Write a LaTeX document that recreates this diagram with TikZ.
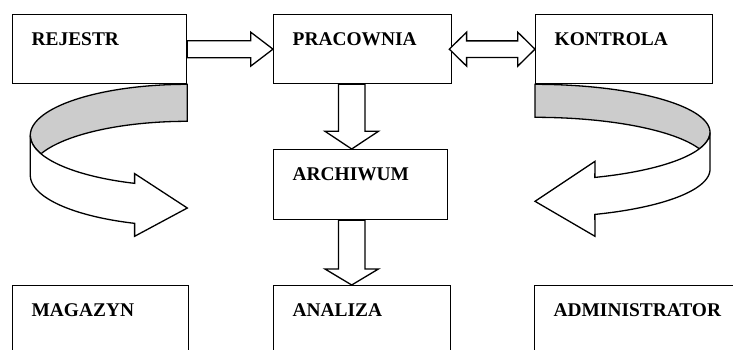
\documentclass[tikz,border=0pt]{standalone}
\usepackage{fontspec}
\setmainfont{Liberation Serif}
\usetikzlibrary{calc}

\tikzset{
  box/.style={draw, line width=1.3pt, anchor=north west, inner xsep=19pt,
    inner ysep=0pt, text height=31.3pt, text depth=37.7pt, align=left,
    font=\fontsize{19.4}{20}\selectfont\bfseries},
  blk/.style={draw, fill=white, line width=1.3pt, line join=miter},
  ribback/.style={draw, fill=black!20, line width=1.3pt},
  ribfront/.style={draw, fill=white, line width=1.3pt},
}

% horizontal block arrow: #1 tail, #2 tip, #3 head length
\newcommand\blockright[3]{%
  \draw[blk] ($(#1)+(0,-8.5)$) -- ($(#2)+(-#3,-8.5)$) -- ($(#2)+(-#3,-17)$)
    -- (#2) -- ($(#2)+(-#3,17)$) -- ($(#2)+(-#3,8.5)$) -- ($(#1)+(0,8.5)$) -- cycle;}
% downward block arrow: #1 tail, #2 tip, #3 head length
\newcommand\blockdown[3]{%
  \draw[blk] ($(#1)+(-13.2,0)$) -- ($(#2)+(-13.2,-#3)$) -- ($(#2)+(-26.7,-#3)$)
    -- (#2) -- ($(#2)+(26.7,-#3)$) -- ($(#2)+(13.2,-#3)$) -- ($(#1)+(13.2,0)$) -- cycle;}

\begin{document}
\begin{tikzpicture}[x=1pt, y=-1pt]
  \path[use as bounding box, clip] (0,0) rectangle (733,349);

  % boxes
  \node[box, text width=136pt] (rej) at (12,14) {REJESTR};
  \node[box, text width=140pt] (prac) at (273,14) {PRACOWNIA};
  \node[box, text width=139pt] (kon) at (535,14) {KONTROLA};
  \node[box, text width=136pt, text depth=38.7pt] (arch) at (273,149) {ARCHIWUM};
  \node[box, text width=138pt, text depth=60pt] (mag) at (12,285) {MAGAZYN};
  \node[box, text width=139pt, text depth=60pt] (ana) at (273,285) {ANALIZA};
  \node[box, text width=180pt, text depth=60pt] (adm) at (534,285) {ADMINISTRATOR};

  % REJESTR -> PRACOWNIA
  \blockright{rej.east}{prac.west}{22.3}

  % PRACOWNIA <-> KONTROLA
  \coordinate (d1) at ($(prac.east)+(-3,0)$);
  \draw[blk] (d1) -- ($(d1)+(17.3,-17)$) -- ($(d1)+(17.3,-8.3)$)
    -- ($(kon.west)+(-17.3,-8.3)$) -- ($(kon.west)+(-17.3,-17)$) -- (kon.west)
    -- ($(kon.west)+(-17.3,17)$) -- ($(kon.west)+(-17.3,8.3)$)
    -- ($(d1)+(17.3,8.3)$) -- ($(d1)+(17.3,17)$) -- cycle;

  % PRACOWNIA -> ARCHIWUM -> ANALIZA
  \coordinate (v1a) at ($(prac.south west)+(78.7,0)$);
  \coordinate (v1b) at (v1a |- arch.north);
  \coordinate (v2a) at (v1a |- arch.south);
  \coordinate (v2b) at (v1a |- ana.north);
  \blockdown{v1a}{v1b}{17.7}
  \blockdown{v2a}{v2b}{16}

  % curved ribbon arrow under REJESTR
  \begin{scope}[shift={(rej.south east)}]
    \draw[ribback] plot[domain=270:158.7, samples=50, variable=\t]
        ({157*cos(\t)},{51+51*sin(\t)})
      -- plot[domain=201.3:270, samples=50, variable=\t]
        ({157*cos(\t)},{88+51*sin(\t)}) -- cycle;
    \draw[ribfront, line join=miter] plot[domain=109.6:180, samples=50, variable=\t]
        ({157*cos(\t)},{51+51*sin(\t)})
      -- plot[domain=180:109.6, samples=50, variable=\t]
        ({157*cos(\t)},{91+51*sin(\t)})
      -- (-52.7,152) -- (0,123.7) -- (-52.7,89.3) -- cycle;
  \end{scope}

  % curved ribbon arrow under KONTROLA
  \begin{scope}[shift={(kon.south west)}]
    \draw[ribback] plot[domain=-90:20.1, samples=50, variable=\t]
        ({175*cos(\t)},{48+48*sin(\t)})
      -- plot[domain=-20.1:-90, samples=50, variable=\t]
        ({175*cos(\t)},{81+48*sin(\t)}) -- cycle;
    \draw[ribfront, line join=miter] plot[domain=70:0, samples=50, variable=\t]
        ({175*cos(\t)},{48+48*sin(\t)})
      -- plot[domain=0:70, samples=50, variable=\t]
        ({175*cos(\t)},{85+48*sin(\t)})
      -- (60,152) -- (0,117) -- (60,77) -- cycle;
  \end{scope}
\end{tikzpicture}
\end{document}
